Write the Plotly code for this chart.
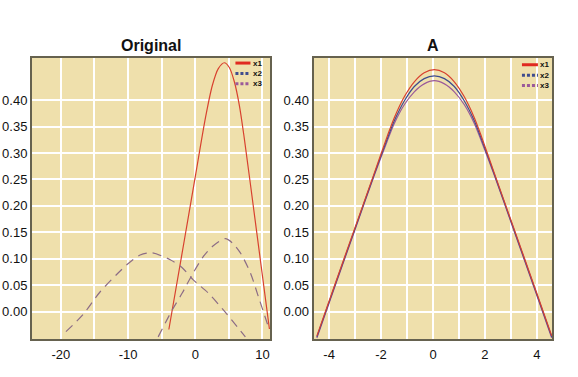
import plotly.graph_objects as go
from plotly.subplots import make_subplots

# ---------------- data: panel "Original" ----------------
orig_x1_x = [-3.93, -1.64, -0.15, 1.55, 2.54, 3.43, 4.33, 5.07, 5.82, 6.57, 7.31, 8.81, 11.04]
orig_x1_y = [-0.034, 0.134, 0.244, 0.369, 0.428, 0.460, 0.471, 0.462, 0.435, 0.390, 0.327, 0.183, -0.033]

orig_x2_x = [-19.25, -16.72, -14.18, -10.15, -8.21, -6.42, -3.73, -1.94, -0.30, 1.94, 4.18, 7.46]
orig_x2_y = [-0.038, -0.006, 0.037, 0.089, 0.107, 0.111, 0.098, 0.083, 0.060, 0.035, 0.003, -0.048]

orig_x3_x = [-5.52, -3.43, -1.94, -0.45, 1.19, 2.54, 4.48, 5.52, 6.72, 8.21, 9.40, 11.04]
orig_x3_y = [-0.048, 0.003, 0.035, 0.070, 0.104, 0.123, 0.138, 0.130, 0.111, 0.073, 0.028, -0.035]

# ---------------- data: panel "A" ----------------
a_x = [-4.47, -3.80, -3.03, -2.26, -1.76, -1.49, -1.10, -0.72, -0.34, 0.05,
       0.44, 0.82, 1.20, 1.59, 1.86, 2.36, 3.13, 3.90, 4.57]
a_x1_y = [-0.046, 0.048, 0.155, 0.262, 0.332, 0.367, 0.407, 0.435, 0.452, 0.458,
          0.452, 0.435, 0.407, 0.367, 0.332, 0.262, 0.155, 0.048, -0.046]
a_x2_y = [-0.048, 0.046, 0.153, 0.260, 0.327, 0.361, 0.399, 0.426, 0.441, 0.446,
          0.441, 0.426, 0.399, 0.361, 0.327, 0.260, 0.153, 0.046, -0.048]
a_x3_y = [-0.050, 0.044, 0.151, 0.258, 0.323, 0.356, 0.392, 0.416, 0.431, 0.437,
          0.431, 0.416, 0.392, 0.356, 0.323, 0.258, 0.151, 0.044, -0.050]

series_names = ["x1", "x2", "x3"]
y_ticks = [0.00, 0.05, 0.10, 0.15, 0.20, 0.25, 0.30, 0.35, 0.40]
orig_x_ticks = [-20, -10, 0, 10]
a_x_ticks = [-4, -2, 0, 2, 4]

RED = "#D8412F"
LEG_RED = "#E02A20"
BLUE = "#3F4C8E"
PURPLE = "#9A5A9A"
DASHCOL = "#8C6C86"
BG = "#EFE0AC"
FRAME = "#66624F"
FONT = "Arial, Liberation Sans, sans-serif"

fig = make_subplots(rows=1, cols=2, horizontal_spacing=0.0827,
                    subplot_titles=("Original", "A"))

# Original panel
fig.add_trace(go.Scatter(x=orig_x1_x, y=orig_x1_y, mode="lines", name="x1",
                         line=dict(color=RED, width=1.2, shape="spline", smoothing=0.8),
                         showlegend=False), row=1, col=1)
fig.add_trace(go.Scatter(x=orig_x2_x, y=orig_x2_y, mode="lines", name="x2",
                         line=dict(color=DASHCOL, width=1.2, dash="9px,6px", shape="spline", smoothing=0.8),
                         showlegend=False), row=1, col=1)
fig.add_trace(go.Scatter(x=orig_x3_x, y=orig_x3_y, mode="lines", name="x3",
                         line=dict(color=DASHCOL, width=1.2, dash="9px,6px", shape="spline", smoothing=0.8),
                         showlegend=False), row=1, col=1)

# A panel
fig.add_trace(go.Scatter(x=a_x, y=a_x3_y, mode="lines", name="x3",
                         line=dict(color=PURPLE, width=1.2, shape="spline", smoothing=0.8),
                         showlegend=False), row=1, col=2)
fig.add_trace(go.Scatter(x=a_x, y=a_x2_y, mode="lines", name="x2",
                         line=dict(color=BLUE, width=1.2, shape="spline", smoothing=0.8),
                         showlegend=False), row=1, col=2)
fig.add_trace(go.Scatter(x=a_x, y=a_x1_y, mode="lines", name="x1",
                         line=dict(color=RED, width=1.2, shape="spline", smoothing=0.8),
                         showlegend=False), row=1, col=2)

axis_common = dict(showgrid=True, gridcolor="white", gridwidth=1.5, zeroline=False,
                   showline=True, linecolor=FRAME, linewidth=2, mirror=True, automargin=False,
                   ticks="", ticklen=0, tickfont=dict(family=FONT, size=13, color="#111"))

fig.update_yaxes(range=[-0.052, 0.48], tickvals=y_ticks, tickformat=".2f", **axis_common)
fig.update_xaxes(row=1, col=1, range=[-24.3, 11.2], tickvals=orig_x_ticks,
                 ticktext=[str(v) for v in orig_x_ticks], ticklabelstandoff=2,
                 minor=dict(dtick=5, tick0=0, showgrid=True, gridcolor="white", gridwidth=1.5),
                 **axis_common)
fig.update_xaxes(row=1, col=2, range=[-4.6, 4.58], tickvals=a_x_ticks,
                 ticktext=[str(v) for v in a_x_ticks], ticklabelstandoff=2,
                 minor=dict(dtick=1, tick0=0, showgrid=True, gridcolor="white", gridwidth=1.5),
                 **axis_common)

for ann in fig.layout.annotations:
    ann.font = dict(family=FONT, size=16, color="#111")
    ann.text = "<b>" + ann.text + "</b>"
    ann.yshift = 2

# compact legends drawn in each panel's top-right corner
leg_styles = [dict(color=LEG_RED, width=3), dict(color=BLUE, width=3, dash="3px,2px"),
              dict(color=PURPLE, width=3, dash="3px,2px")]
panels = [("x domain", "y domain", 0.853, 0.916, 0.922, [0.982, 0.945, 0.908]),
          ("x2 domain", "y2 domain", 0.874, 0.941, 0.946, [0.976, 0.939, 0.902])]
for xr, yr, x0, x1, xt, ys in panels:
    for name, st, yy in zip(series_names, leg_styles, ys):
        fig.add_shape(type="line", xref=xr, yref=yr, x0=x0, x1=x1, y0=yy, y1=yy, line=st)
        fig.add_annotation(xref=xr, yref=yr, x=xt, y=yy, text="<b>" + name + "</b>", showarrow=False,
                           xanchor="left", yanchor="middle", borderpad=0,
                           font=dict(family=FONT, size=8, color="#111"))

fig.update_layout(
    width=578, height=377,
    margin=dict(l=32, r=26, t=58, b=38),
    paper_bgcolor="white", plot_bgcolor=BG,
    showlegend=False,
    font=dict(family=FONT),
)

# remove the page body's default 8px margin so the figure fills the window
fig.write_html("out.html", config={"displayModeBar": False},
               post_script="document.body.style.margin='0px';")
